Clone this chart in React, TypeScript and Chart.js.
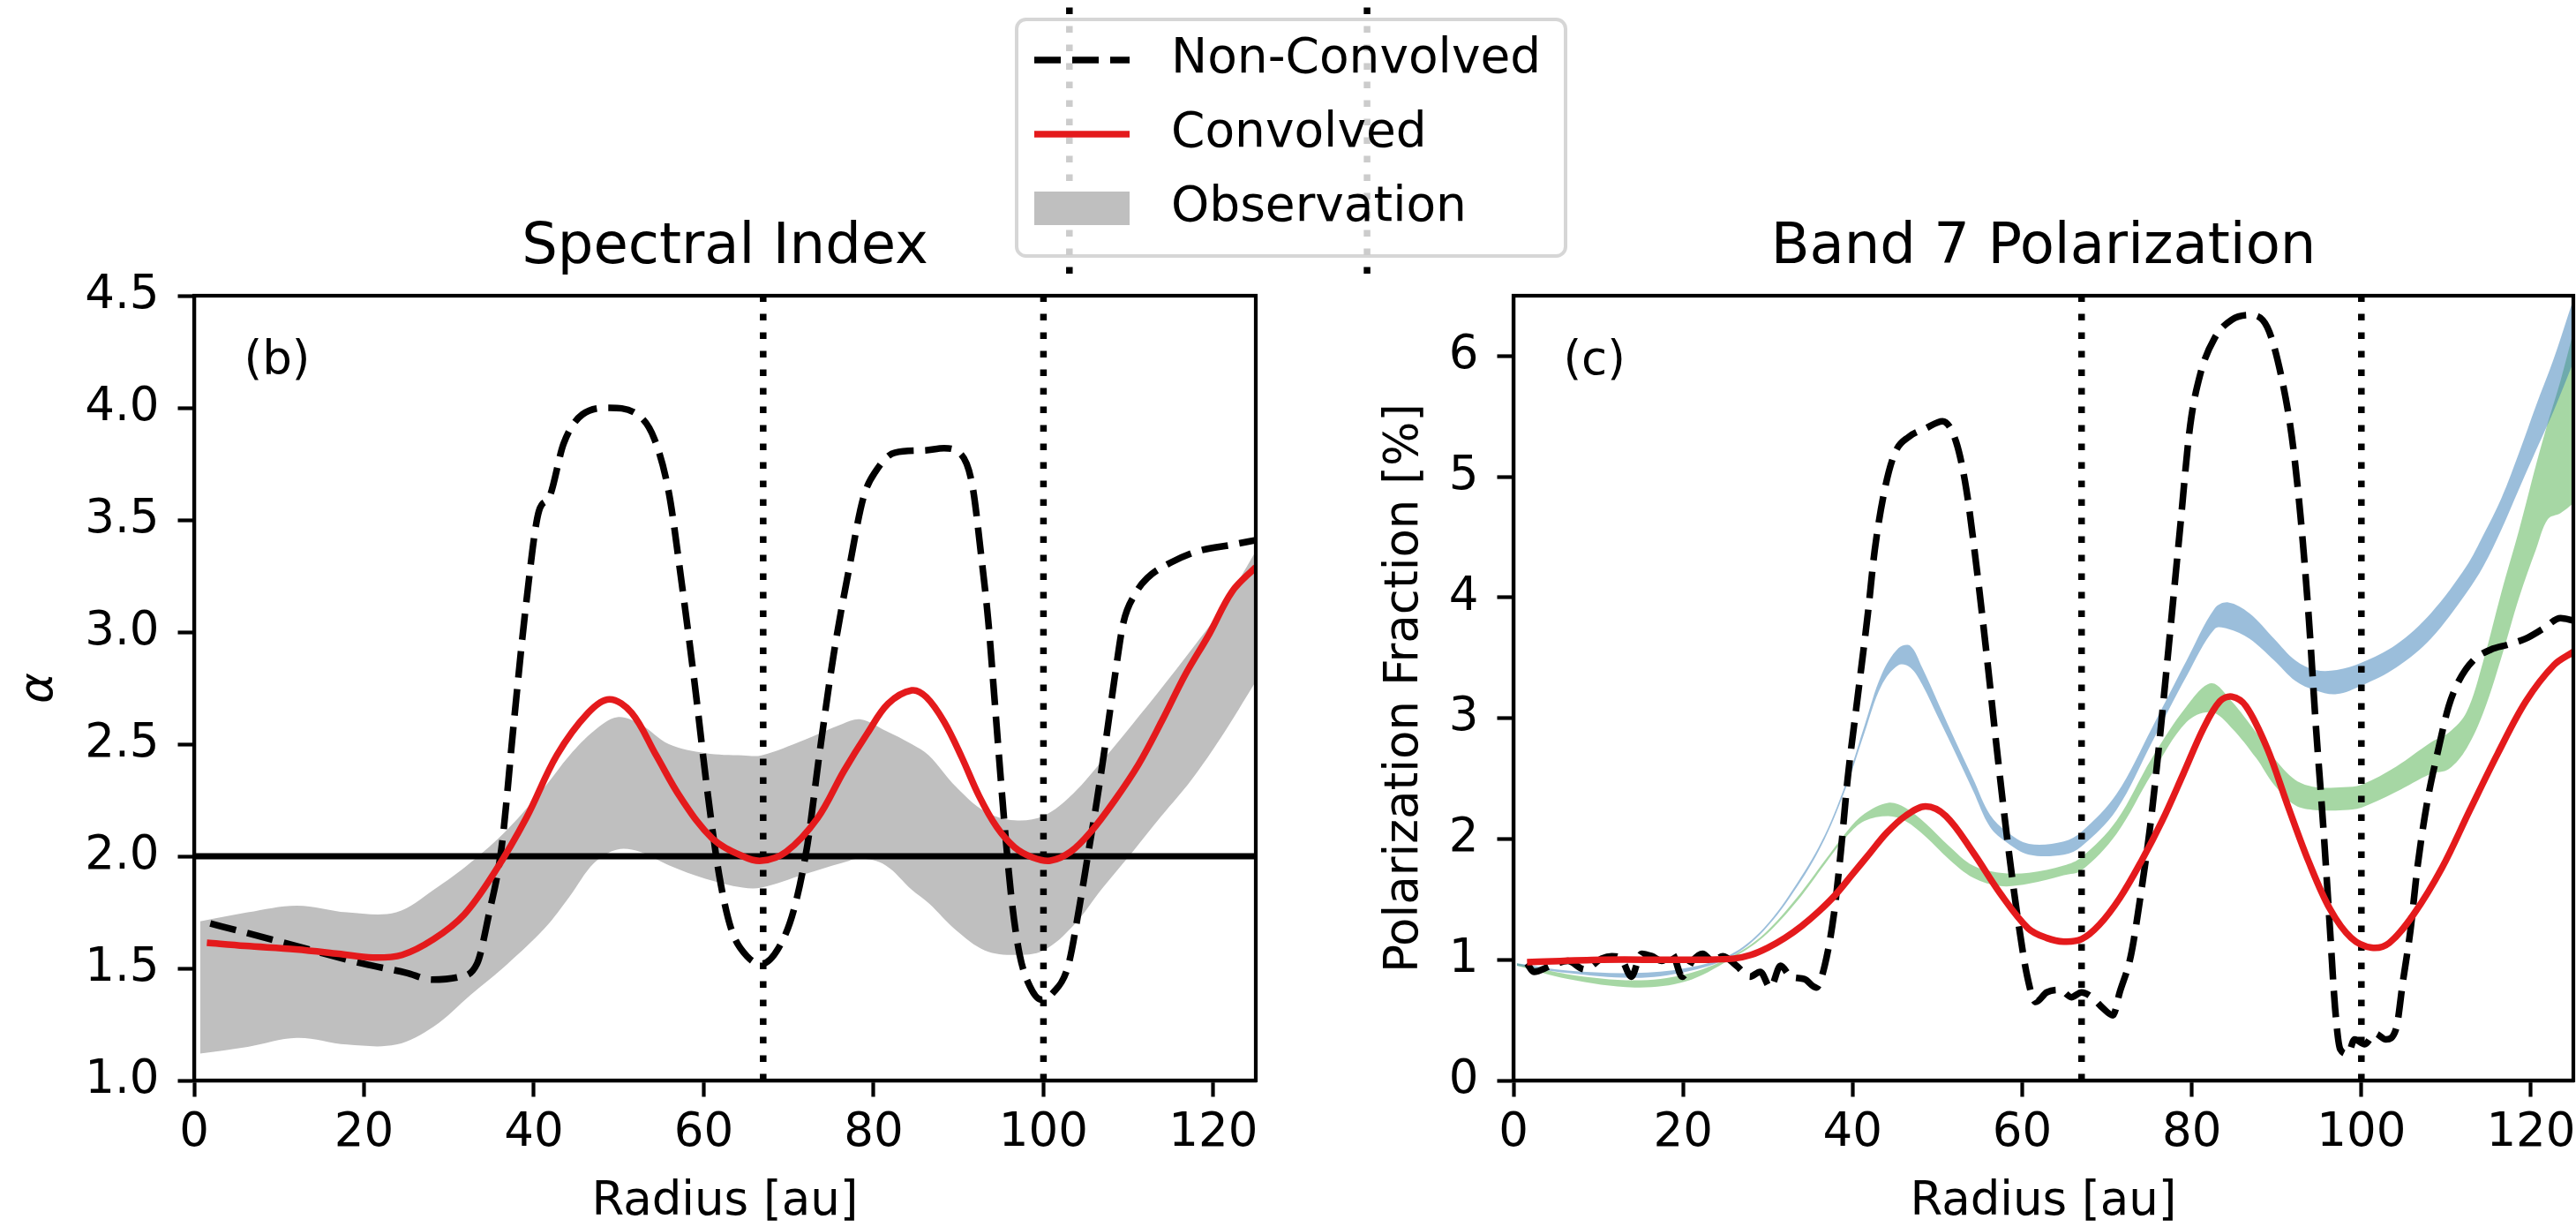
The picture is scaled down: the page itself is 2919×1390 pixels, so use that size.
import React, { useEffect, useRef } from "react";
import { Chart, registerables } from "chart.js";

Chart.register(...registerables);

const W = 2919;
const H = 1390;
const FONT = "DejaVu Sans";

// ---------------- axes / ticks ----------------
const RADIUS_TICKS = [0, 20, 40, 60, 80, 100, 120];
const RADIUS_RANGE = [0, 125];
const ALPHA_TICKS = [1.0, 1.5, 2.0, 2.5, 3.0, 3.5, 4.0, 4.5];
const ALPHA_RANGE = [1.0, 4.5];
const POL_TICKS = [0, 1, 2, 3, 4, 5, 6];
const POL_RANGE = [0, 6.5];
const GAP_RADII = [67, 100];
const ALPHA_REFERENCE = 2.0;

// ---------------- Spectral index (b) ----------------
const SI_NONCONV_R = [1.9, 6, 12, 20, 25, 28, 31, 33.3, 34.7, 36.2, 37.6, 39.1, 40.6, 41.8, 43.5, 45.7, 48.9, 52.2, 54.2, 55.9, 57.4, 58.9, 60.4, 61.8, 63.2, 65.2, 66.8, 68.8, 70.6, 72.2, 73.6, 75.3, 77.2, 78.8, 80.3, 82.5, 86, 88.3, 90.1, 91.6, 92.7, 93.5, 94.2, 94.9, 95.6, 96.3, 97.2, 98.4, 99.8, 101.1, 102.9, 104.3, 105.3, 106.3, 107.4, 108.4, 109.4, 110.8, 112.2, 115, 118.1, 122.3, 125];
const SI_NONCONV_A = [1.70, 1.66, 1.60, 1.52, 1.48, 1.45, 1.46, 1.52, 1.74, 2.04, 2.58, 3.13, 3.54, 3.60, 3.84, 3.97, 4.00, 3.97, 3.86, 3.62, 3.22, 2.78, 2.30, 1.92, 1.68, 1.55, 1.52, 1.59, 1.76, 2.05, 2.45, 2.90, 3.30, 3.60, 3.72, 3.80, 3.81, 3.82, 3.80, 3.66, 3.33, 3.05, 2.72, 2.38, 2.06, 1.79, 1.56, 1.42, 1.36, 1.39, 1.51, 1.79, 2.02, 2.25, 2.53, 2.80, 3.04, 3.17, 3.24, 3.31, 3.36, 3.39, 3.41];

const SI_CONV_R = [1.5, 6, 12, 17, 21, 24.5, 28.2, 31.8, 35.4, 39.1, 42.7, 46.4, 48.9, 51.5, 54.4, 57.3, 61, 64.6, 66.8, 69.7, 73.4, 76.5, 79.3, 81.7, 84.5, 86.2, 88.3, 90.4, 92.4, 94.5, 96.6, 98.7, 100.8, 103.2, 105.6, 108.4, 111.2, 113.9, 116.7, 119.5, 122.2, 125];
const SI_CONV_A = [1.614, 1.60, 1.585, 1.565, 1.548, 1.56, 1.63, 1.74, 1.93, 2.17, 2.45, 2.64, 2.70, 2.64, 2.45, 2.26, 2.08, 2.00, 1.98, 2.02, 2.17, 2.38, 2.55, 2.68, 2.74, 2.71, 2.60, 2.44, 2.27, 2.13, 2.04, 1.995, 1.98, 2.02, 2.11, 2.25, 2.41, 2.60, 2.81, 2.99, 3.18, 3.29];

const SI_OBS_R = [0.7, 6.3, 12.1, 18, 23.8, 28.2, 32.5, 36.9, 41.3, 44.2, 47.1, 49.8, 52.5, 55.9, 60.2, 64.6, 66.8, 71.9, 76.3, 78.5, 81.4, 84.5, 86.5, 89.7, 93.1, 96.6, 100, 103.5, 107, 110.5, 113.9, 117.4, 120.9, 125];
const SI_OBS_HI = [1.71, 1.75, 1.78, 1.75, 1.75, 1.85, 1.97, 2.12, 2.31, 2.45, 2.56, 2.62, 2.59, 2.50, 2.46, 2.45, 2.45, 2.52, 2.59, 2.61, 2.56, 2.50, 2.45, 2.31, 2.20, 2.16, 2.18, 2.28, 2.43, 2.59, 2.75, 2.92, 3.10, 3.36];
const SI_OBS_LO = [1.12, 1.15, 1.19, 1.16, 1.16, 1.24, 1.38, 1.52, 1.68, 1.82, 1.97, 2.03, 2.02, 1.96, 1.90, 1.86, 1.86, 1.92, 1.97, 1.99, 1.96, 1.85, 1.79, 1.67, 1.58, 1.56, 1.58, 1.69, 1.86, 2.02, 2.18, 2.34, 2.53, 2.78];

// ---------------- Band 7 polarization (c) ----------------
const PF_NONCONV_R = [1.6, 2.4, 4.4, 6.4, 8.4, 10.4, 11.6, 12.7, 13.9, 15.1, 16.3, 17.5, 18.7, 19.9, 21.1, 22.3, 23.5, 24.7, 26.3, 27.9, 29.1, 30.3, 31.5, 32.7, 34.3, 35.7, 36.7, 37.8, 38.6, 39.4, 40.6, 41.8, 42.6, 43.8, 45.0, 46.6, 48.6, 50.6, 52.2, 53.4, 54.6, 55.8, 57.0, 58.2, 59.4, 60.6, 61.6, 62.9, 64.5, 65.8, 67.0, 68.2, 69.5, 70.7, 71.5, 72.8, 74.0, 75.1, 76.1, 77.3, 78.6, 79.8, 81.0, 82.7, 84.7, 86.8, 88.9, 90.5, 91.8, 92.8, 93.8, 94.6, 95.5, 96.3, 96.9, 97.5, 98.4, 99.2, 100.4, 101.6, 102.9, 104.1, 104.9, 105.8, 106.6, 107.8, 109.1, 110.3, 111.5, 113.2, 115.3, 117.3, 119.4, 121.4, 123.5, 125];
const PF_NONCONV_P = [0.97, 0.90, 0.95, 0.99, 0.92, 1.01, 1.03, 1.01, 0.86, 1.05, 1.03, 0.99, 1.05, 0.86, 0.99, 1.05, 0.99, 1.03, 0.95, 0.86, 0.90, 0.77, 0.95, 0.86, 0.84, 0.77, 0.95, 1.38, 1.89, 2.49, 3.18, 3.87, 4.39, 4.90, 5.20, 5.33, 5.40, 5.46, 5.29, 4.90, 4.26, 3.53, 2.75, 2.02, 1.38, 0.86, 0.65, 0.73, 0.75, 0.69, 0.73, 0.69, 0.60, 0.54, 0.73, 1.03, 1.55, 2.11, 2.75, 3.61, 4.56, 5.42, 5.85, 6.15, 6.30, 6.34, 6.24, 5.85, 5.33, 4.69, 3.83, 2.97, 2.11, 1.25, 0.60, 0.26, 0.22, 0.34, 0.30, 0.39, 0.34, 0.43, 0.82, 1.25, 1.76, 2.32, 2.75, 3.10, 3.31, 3.48, 3.57, 3.61, 3.66, 3.74, 3.83, 3.81];

const PF_CONV_R = [1.6, 10.4, 18, 22.3, 26, 28, 30, 32, 34, 36, 38, 40, 42, 44, 46.2, 48.6, 51.0, 54.2, 57.4, 60.7, 62.9, 64.9, 67.0, 69.1, 71.5, 74.0, 76.5, 79.0, 81.4, 83.3, 84.7, 86.4, 88.9, 91.3, 93.8, 96.3, 98.8, 101.2, 103.3, 106.2, 109.5, 112.8, 116.1, 119.4, 122.7, 125];
const PF_CONV_P = [0.98, 1.00, 1.00, 1.00, 1.01, 1.04, 1.10, 1.18, 1.28, 1.40, 1.54, 1.71, 1.88, 2.05, 2.19, 2.27, 2.19, 1.89, 1.55, 1.26, 1.18, 1.15, 1.17, 1.29, 1.51, 1.81, 2.15, 2.54, 2.92, 3.14, 3.18, 3.10, 2.75, 2.28, 1.81, 1.42, 1.18, 1.10, 1.14, 1.38, 1.76, 2.24, 2.71, 3.14, 3.44, 3.55];

const PF_BLUE_R = [0.4, 6.4, 14.3, 20.3, 25.5, 29.5, 33.5, 36.7, 39.4, 41.4, 43.4, 45.4, 46.8, 48.2, 50.2, 52.2, 54.2, 56.2, 58.2, 60.8, 64.9, 67.0, 71.1, 75.3, 79.4, 82.7, 84.3, 86.8, 89.7, 92.2, 94.6, 97.1, 100, 104.1, 108.2, 112.4, 114.4, 116.5, 118.6, 120.6, 122.7, 125];
const PF_BLUE_HI = [0.97, 0.91, 0.89, 0.93, 1.04, 1.26, 1.64, 2.03, 2.50, 2.94, 3.36, 3.58, 3.60, 3.42, 3.11, 2.80, 2.50, 2.20, 2.06, 1.96, 1.98, 2.06, 2.37, 2.92, 3.48, 3.91, 3.96, 3.87, 3.66, 3.48, 3.40, 3.40, 3.46, 3.61, 3.87, 4.26, 4.52, 4.82, 5.20, 5.59, 5.98, 6.47];
const PF_BLUE_LO = [0.95, 0.89, 0.85, 0.90, 1.02, 1.24, 1.61, 2.00, 2.46, 2.88, 3.27, 3.44, 3.42, 3.28, 2.99, 2.70, 2.40, 2.10, 1.97, 1.87, 1.87, 1.94, 2.24, 2.80, 3.35, 3.74, 3.74, 3.66, 3.48, 3.31, 3.23, 3.20, 3.27, 3.42, 3.66, 4.04, 4.26, 4.56, 4.90, 5.22, 5.55, 5.95];

const PF_GREEN_R = [0.4, 6.4, 14.3, 20.3, 25.5, 29.5, 33.5, 36.7, 39.4, 41.4, 44.2, 46.2, 48.6, 51.4, 54.2, 57.4, 60.8, 64.9, 67.0, 71.1, 75.3, 79.4, 82.3, 84.7, 87.6, 89.7, 92.2, 94.6, 97.9, 100, 104.1, 108.2, 110.3, 112.4, 114.4, 116.5, 118.6, 120.6, 122.0, 123.5, 125];
const PF_GREEN_HI = [0.97, 0.88, 0.83, 0.88, 1.02, 1.21, 1.52, 1.82, 2.07, 2.21, 2.30, 2.26, 2.13, 1.94, 1.78, 1.72, 1.72, 1.78, 1.85, 2.15, 2.67, 3.10, 3.29, 3.14, 2.88, 2.67, 2.49, 2.43, 2.43, 2.45, 2.60, 2.80, 2.88, 3.05, 3.48, 4.04, 4.56, 5.10, 5.45, 5.80, 6.20];
const PF_GREEN_LO = [0.95, 0.84, 0.77, 0.82, 1.00, 1.19, 1.49, 1.79, 2.03, 2.15, 2.19, 2.15, 2.02, 1.83, 1.68, 1.61, 1.63, 1.70, 1.74, 2.04, 2.54, 2.97, 3.05, 2.92, 2.67, 2.45, 2.28, 2.24, 2.24, 2.26, 2.39, 2.54, 2.58, 2.75, 3.05, 3.50, 4.00, 4.40, 4.65, 4.70, 4.78];

const LEGEND_LABELS = ["Non-Convolved", "Convolved", "Observation"];

// ---------------- styles / layout ----------------
const RED = "#e41a1c";
const OBS_GRAY = "#bfbfbf";
const BLUE_BAND = "rgba(55,126,184,0.5)";
const GREEN_BAND = "rgba(77,175,74,0.5)";
const LINE_W = 7.5;
const DASH = [30, 13];
const DOT = [7.5, 13.5];
const AXIS_W = 4.2;
const TICK_LEN = 18.5;
const TICK_FONT = 53;
const LEGEND_FONT = 55;
const TITLE_FONT = 64;
const SMOOTH = 0.35;

const PLOT_TOP = 335;
const PLOT_BOTTOM = 1224;
const LEFT_PLOT = { left: 220, right: 1423 };
const RIGHT_PLOT = { left: 1715, right: 2916, axisW: 168 };
// hidden upper panel whose dotted guides show above the legend
const TOP_PANEL = { left: 527, right: 1804.6, bottom: 310 };

const pts = (xs: number[], ys: number[]) => xs.map((x, i) => ({ x, y: ys[i] }));

const smoothCurve = (xs: number[], ys: number[], extra: any) => ({
  data: pts(xs, ys),
  pointRadius: 0,
  borderWidth: LINE_W,
  fill: false,
  tension: SMOOTH,
  ...extra,
});

const jaggedCurve = (xs: number[], ys: number[], extra: any) => ({
  data: pts(xs, ys),
  pointRadius: 0,
  borderWidth: LINE_W,
  fill: false,
  cubicInterpolationMode: "monotone",
  ...extra,
});

const band = (xs: number[], lo: number[], hi: number[], color: string, label?: string) => [
  {
    data: pts(xs, lo),
    pointRadius: 0,
    borderWidth: 0,
    borderColor: "rgba(0,0,0,0)",
    fill: false,
    tension: SMOOTH,
  },
  {
    label,
    data: pts(xs, hi),
    pointRadius: 0,
    borderWidth: 0,
    borderColor: "rgba(0,0,0,0)",
    backgroundColor: color,
    fill: "-1",
    tension: SMOOTH,
  },
];

const straight = (data: { x: number; y: number }[], extra: any) => ({
  data,
  pointRadius: 0,
  fill: false,
  tension: 0,
  borderColor: "#000",
  ...extra,
});

const gapLines = (yMin: number, yMax: number) =>
  GAP_RADII.map((r) =>
    straight(
      [
        { x: r, y: yMin },
        { x: r, y: yMax },
      ],
      { borderWidth: LINE_W, borderDash: DOT }
    )
  );

// ---------------- plugins ----------------
const framePlugin = {
  id: "frame",
  afterDraw(chart: any, _a: any, opts: any) {
    if (!opts || !opts.display) return;
    const { ctx, chartArea: a } = chart;
    ctx.save();
    ctx.strokeStyle = "#000";
    ctx.lineWidth = AXIS_W;
    ctx.strokeRect(a.left, a.top, a.right - a.left, a.bottom - a.top);
    ctx.restore();
  },
};

const tagPlugin = {
  id: "panelTag",
  afterDatasetsDraw(chart: any, _a: any, opts: any) {
    if (!opts || !opts.text) return;
    const { ctx, chartArea: a } = chart;
    ctx.save();
    ctx.font = `${TICK_FONT}px "${FONT}"`;
    ctx.fillStyle = "#000";
    ctx.textAlign = "left";
    ctx.textBaseline = "alphabetic";
    ctx.fillText(opts.text, a.left + opts.fx * (a.right - a.left), a.bottom - opts.fy * (a.bottom - a.top));
    ctx.restore();
  },
};

const figLegendPlugin = {
  id: "figLegend",
  afterDraw(chart: any, _a: any, o: any) {
    if (!o || !o.display) return;
    const ctx = chart.ctx;
    ctx.save();
    ctx.beginPath();
    ctx.roundRect(o.x, o.y, o.w, o.h, o.radius);
    ctx.fillStyle = "rgba(255,255,255,0.8)";
    ctx.fill();
    ctx.lineWidth = 4;
    ctx.strokeStyle = "rgba(204,204,204,0.8)";
    ctx.stroke();
    o.labels.forEach((label: string, i: number) => {
      const ds = chart.data.datasets.find((d: any) => d.label === label);
      if (!ds) return;
      const cy = o.rowY + i * o.rowPitch;
      if (ds.fill) {
        ctx.fillStyle = ds.backgroundColor;
        ctx.fillRect(o.handleX, cy - o.patchH / 2, o.handleLen, o.patchH);
      } else {
        ctx.beginPath();
        ctx.setLineDash(ds.borderDash || []);
        ctx.lineWidth = ds.borderWidth;
        ctx.strokeStyle = ds.borderColor;
        ctx.moveTo(o.handleX, cy);
        ctx.lineTo(o.handleX + o.handleLen, cy);
        ctx.stroke();
        ctx.setLineDash([]);
      }
      ctx.fillStyle = "#000";
      ctx.font = `${LEGEND_FONT}px "${FONT}"`;
      ctx.textAlign = "left";
      ctx.textBaseline = "middle";
      ctx.fillText(label, o.textX, cy);
    });
    ctx.restore();
  },
};

// ---------------- scales ----------------
function makeScales(
  yRange: number[],
  yTicks: number[],
  yFmt: (v: number) => string,
  yTitle: string,
  yWidth: number,
  yTitleStyle: string
) {
  const grid = {
    display: true,
    drawOnChartArea: false,
    drawTicks: true,
    tickLength: TICK_LEN,
    tickWidth: AXIS_W,
    tickColor: "#000",
  };
  const border = { display: true, color: "#000", width: AXIS_W };
  return {
    x: {
      type: "linear",
      position: "bottom",
      min: RADIUS_RANGE[0],
      max: RADIUS_RANGE[1],
      grid,
      border,
      afterBuildTicks: (s: any) => {
        s.ticks = RADIUS_TICKS.map((v) => ({ value: v }));
      },
      ticks: {
        font: { family: FONT, size: TICK_FONT },
        color: "#000",
        padding: 9.5,
        maxRotation: 0,
        minRotation: 0,
        autoSkip: false,
        callback: (v: any) => String(v),
      },
      title: {
        display: true,
        text: "Radius [au]",
        color: "#000",
        font: { family: FONT, size: TICK_FONT, lineHeight: 1 },
        padding: { top: 0, bottom: 1 },
      },
      afterFit: (s: any) => {
        s.height = H - PLOT_BOTTOM;
        s.paddingLeft = 0;
        s.paddingRight = 0;
      },
    },
    y: {
      type: "linear",
      position: "left",
      min: yRange[0],
      max: yRange[1],
      grid,
      border,
      afterBuildTicks: (s: any) => {
        s.ticks = yTicks.map((v) => ({ value: v }));
      },
      ticks: {
        font: { family: FONT, size: TICK_FONT },
        color: "#000",
        padding: 21,
        autoSkip: false,
        callback: (v: any) => yFmt(Number(v)),
      },
      title: {
        display: true,
        text: yTitle,
        color: "#000",
        font: { family: FONT, size: TICK_FONT, lineHeight: 1, style: yTitleStyle },
        padding: { top: 18.5, bottom: 0 },
      },
      afterFit: (s: any) => {
        s.width = yWidth;
        s.paddingTop = 0;
        s.paddingBottom = 0;
      },
    },
  };
}

const titleOpts = (text: string) => ({
  display: true,
  text,
  fullSize: false,
  color: "#000",
  font: { family: FONT, size: TITLE_FONT, weight: "normal", lineHeight: 1.2 },
  padding: { top: 242.5, bottom: PLOT_TOP - 242.5 - TITLE_FONT * 1.2 },
});

function leftConfig(): any {
  const datasets: any[] = [
    smoothCurve(SI_CONV_R, SI_CONV_A, { label: "Convolved", borderColor: RED }),
    jaggedCurve(SI_NONCONV_R, SI_NONCONV_A, { label: "Non-Convolved", borderColor: "#000", borderDash: DASH }),
    ...gapLines(ALPHA_RANGE[0], ALPHA_RANGE[1]),
    straight(
      [
        { x: RADIUS_RANGE[0], y: ALPHA_REFERENCE },
        { x: RADIUS_RANGE[1], y: ALPHA_REFERENCE },
      ],
      { borderWidth: 7 }
    ),
    ...band(SI_OBS_R, SI_OBS_LO, SI_OBS_HI, OBS_GRAY, "Observation"),
  ];
  return {
    type: "line",
    data: { datasets },
    plugins: [framePlugin, tagPlugin, figLegendPlugin],
    options: {
      responsive: false,
      animation: false,
      devicePixelRatio: 1,
      events: [],
      layout: { padding: { left: 0, right: W - LEFT_PLOT.right, top: 0, bottom: 0 } },
      scales: makeScales(ALPHA_RANGE, ALPHA_TICKS, (v) => v.toFixed(1), "α", LEFT_PLOT.left, "italic"),
      plugins: {
        legend: { display: false },
        tooltip: { enabled: false },
        title: titleOpts("Spectral Index"),
        frame: { display: true },
        panelTag: { text: "(b)", fx: 0.047, fy: 0.9 },
        figLegend: {
          display: true,
          labels: LEGEND_LABELS,
          x: 1152,
          y: 22,
          w: 622,
          h: 268,
          radius: 10.6,
          handleX: 1172,
          handleLen: 108,
          rowY: 68,
          rowPitch: 84,
          patchH: 38,
          textX: 1327,
        },
      },
    },
  };
}

function rightConfig(): any {
  const datasets: any[] = [
    smoothCurve(PF_CONV_R, PF_CONV_P, { borderColor: RED }),
    jaggedCurve(PF_NONCONV_R, PF_NONCONV_P, { borderColor: "#000", borderDash: DASH }),
    ...gapLines(POL_RANGE[0], POL_RANGE[1]),
    ...band(PF_BLUE_R, PF_BLUE_LO, PF_BLUE_HI, BLUE_BAND),
    ...band(PF_GREEN_R, PF_GREEN_LO, PF_GREEN_HI, GREEN_BAND),
  ];
  return {
    type: "line",
    data: { datasets },
    plugins: [framePlugin, tagPlugin],
    options: {
      responsive: false,
      animation: false,
      devicePixelRatio: 1,
      events: [],
      layout: {
        padding: { left: RIGHT_PLOT.left - RIGHT_PLOT.axisW, right: W - RIGHT_PLOT.right, top: 0, bottom: 0 },
      },
      scales: makeScales(POL_RANGE, POL_TICKS, (v) => String(v), "Polarization Fraction [%]", RIGHT_PLOT.axisW, "normal"),
      plugins: {
        legend: { display: false },
        tooltip: { enabled: false },
        title: titleOpts("Band 7 Polarization"),
        frame: { display: true },
        panelTag: { text: "(c)", fx: 0.047, fy: 0.9 },
      },
    },
  };
}

function topPanelConfig(): any {
  return {
    type: "line",
    data: { datasets: gapLines(0, 1) },
    options: {
      responsive: false,
      animation: false,
      devicePixelRatio: 1,
      events: [],
      layout: {
        padding: { left: TOP_PANEL.left, right: W - TOP_PANEL.right, top: 0, bottom: H - TOP_PANEL.bottom },
      },
      scales: {
        x: { type: "linear", display: false, min: RADIUS_RANGE[0], max: RADIUS_RANGE[1] },
        y: { type: "linear", display: false, min: 0, max: 1 },
      },
      plugins: { legend: { display: false }, tooltip: { enabled: false }, title: { display: false } },
    },
  };
}

export default function App() {
  const topRef = useRef<HTMLCanvasElement>(null);
  const leftRef = useRef<HTMLCanvasElement>(null);
  const rightRef = useRef<HTMLCanvasElement>(null);

  useEffect(() => {
    Chart.defaults.font.family = FONT;
    Chart.defaults.color = "#000";
    const charts: Chart[] = [];
    if (topRef.current) charts.push(new Chart(topRef.current, topPanelConfig()));
    if (leftRef.current) charts.push(new Chart(leftRef.current, leftConfig()));
    if (rightRef.current) charts.push(new Chart(rightRef.current, rightConfig()));
    return () => charts.forEach((c) => c.destroy());
  }, []);

  const cs: React.CSSProperties = { position: "absolute", left: 0, top: 0, width: W, height: H };
  return (
    <div
      style={{
        position: "fixed",
        left: 0,
        top: 0,
        width: W,
        height: H,
        background: "#fff",
        overflow: "hidden",
      }}
    >
      <canvas ref={topRef} width={W} height={H} style={cs} />
      <canvas ref={leftRef} width={W} height={H} style={cs} />
      <canvas ref={rightRef} width={W} height={H} style={cs} />
    </div>
  );
}
